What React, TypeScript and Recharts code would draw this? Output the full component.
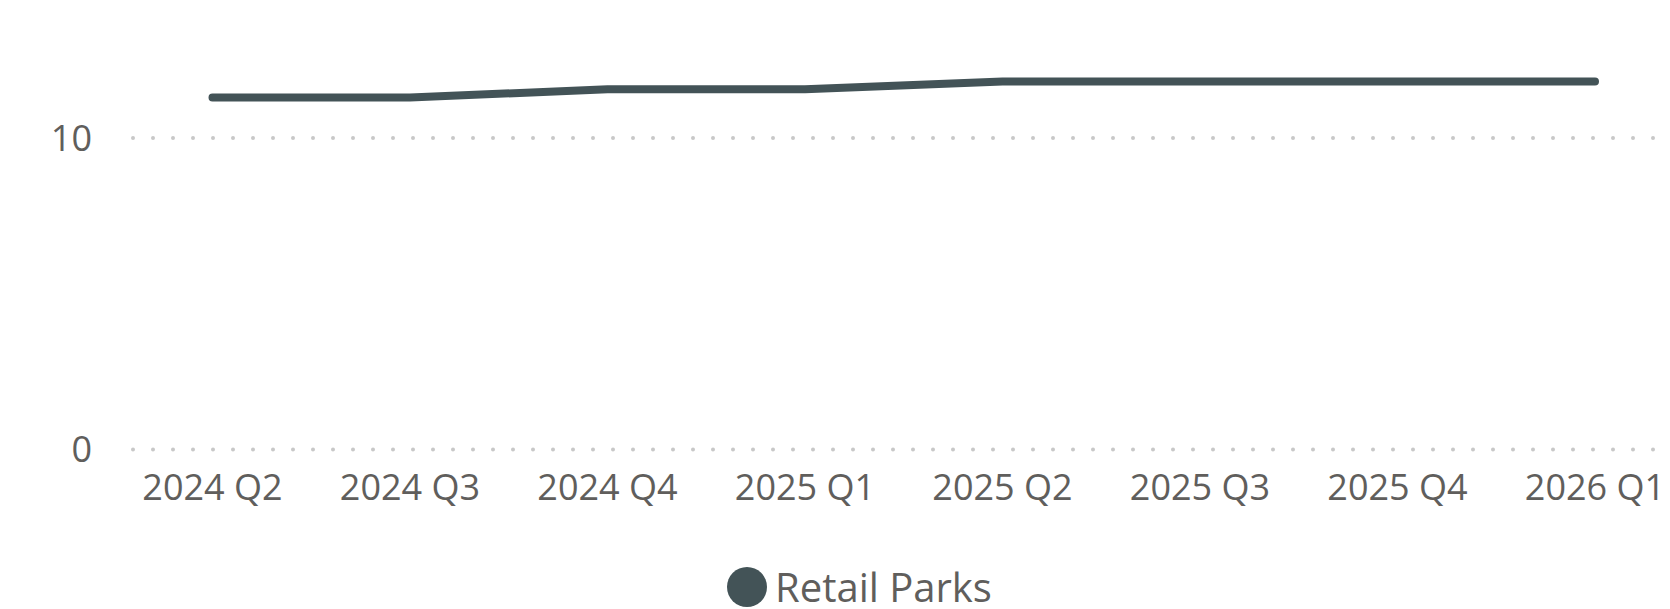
import { CartesianGrid, Legend, Line, LineChart, XAxis, YAxis } from "recharts"

const quarters = ["2024 Q2", "2024 Q3", "2024 Q4", "2025 Q1", "2025 Q2", "2025 Q3", "2025 Q4", "2026 Q1"]
const retailParks = [11.3, 11.3, 11.56, 11.56, 11.81, 11.81, 11.81, 11.81]
const yTicks = [0, 10]

const seriesName = "Retail Parks"
const lineColor = "#435357"
const textColor = "#605E5C"
const font = "'Open Sans', 'Noto Sans', sans-serif"

const chartData = quarters.map((q, i) => ({ quarter: q, value: retailParks[i] }))

function LegendContent() {
  return (
    <div style={{ display: "flex", alignItems: "center", height: 44, paddingLeft: 719, fontFamily: font }}>
      <svg width={40} height={40} style={{ flex: "none" }}>
        <circle cx={20} cy={20} r={20} fill={lineColor} />
      </svg>
      <span style={{ marginLeft: 8, fontSize: 40, color: textColor, lineHeight: "44px", whiteSpace: "nowrap" }}>
        {seriesName}
      </span>
    </div>
  )
}

export default function App() {
  return (
    <div style={{ width: 1662, height: 601, fontFamily: font }}>
      <LineChart width={1662} height={601} data={chartData} margin={{ top: 36.5, right: 14, bottom: 0, left: 0 }}>
        <CartesianGrid
          vertical={false}
          horizontalValues={yTicks}
          stroke="#c8c8c8"
          strokeWidth={4}
          strokeDasharray="0 20"
          strokeDashoffset={-2}
          strokeLinecap="round"
        />
        <XAxis
          dataKey="quarter"
          axisLine={false}
          tickLine={false}
          tickSize={0}
          tickMargin={25}
          height={115.5}
          padding={{ left: 81.5, right: 61 }}
          interval={0}
          tick={{ fontSize: 36, fill: textColor, fontFamily: font }}
        />
        <YAxis
          domain={[0, 13]}
          ticks={yTicks}
          axisLine={false}
          tickLine={false}
          tickSize={0}
          tickMargin={39}
          width={123}
          tick={{ fontSize: 36, fill: textColor, fontFamily: font }}
        />
        <Legend verticalAlign="bottom" height={44} content={() => <LegendContent />} />
        <Line
          type="linear"
          dataKey="value"
          name={seriesName}
          stroke={lineColor}
          strokeWidth={8}
          strokeLinecap="round"
          strokeLinejoin="round"
          dot={false}
          activeDot={false}
          isAnimationActive={false}
        />
      </LineChart>
    </div>
  )
}
